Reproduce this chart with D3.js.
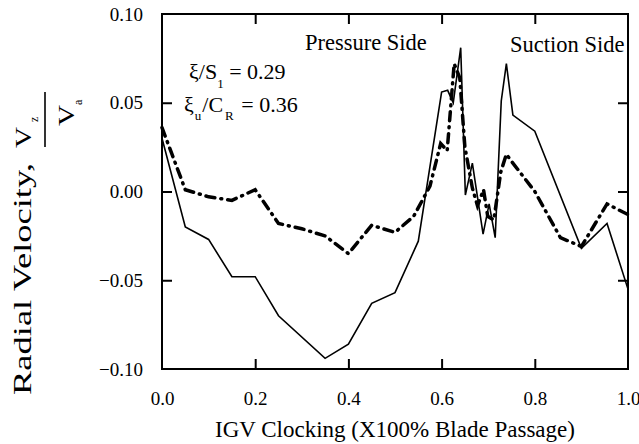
<!DOCTYPE html>
<html><head><meta charset="utf-8">
<script src="https://cdn.jsdelivr.net/npm/d3@7"></script>
<style>
html,body{margin:0;padding:0;background:#fff;}
svg text{font-family:"Liberation Serif","DejaVu Serif",serif !important;fill:#000;}
</style></head>
<body>
<svg id="chart" width="639" height="444" font-family="Liberation Serif, serif"></svg>
<script>
// Data
const solidX = [0, 0.05, 0.10, 0.15, 0.20, 0.25, 0.35, 0.40, 0.45, 0.50, 0.55, 0.60, 0.613, 0.625, 0.641, 0.651, 0.666, 0.689, 0.702, 0.715, 0.728, 0.739, 0.753, 0.80, 0.90, 0.955, 1.0];
const solidY = [0.030, -0.020, -0.027, -0.048, -0.048, -0.070, -0.094, -0.086, -0.063, -0.057, -0.028, 0.056, 0.057, 0.050, 0.081, -0.002, 0.016, -0.024, -0.007, -0.026, 0.051, 0.072, 0.043, 0.034, -0.032, -0.018, -0.055];
const dashX = [0, 0.05, 0.10, 0.15, 0.20, 0.25, 0.30, 0.35, 0.40, 0.45, 0.50, 0.54, 0.575, 0.598, 0.612, 0.627, 0.639, 0.650, 0.666, 0.677, 0.690, 0.699, 0.712, 0.727, 0.739, 0.75, 0.80, 0.855, 0.90, 0.955, 1.0];
const dashY = [0.036, 0.001, -0.003, -0.005, 0.001, -0.018, -0.021, -0.025, -0.035, -0.019, -0.023, -0.014, 0.003, 0.027, 0.023, 0.072, 0.064, 0.025, 0.002, -0.008, 0.001, -0.014, -0.016, 0.011, 0.021, 0.017, 0.000, -0.026, -0.031, -0.007, -0.013];
const xTicks = [0.0, 0.2, 0.4, 0.6, 0.8, 1.0];
const yTicks = [-0.10, -0.05, 0.00, 0.05, 0.10];

const FONT = '"Liberation Serif", "DejaVu Serif", serif';
const svg = d3.select("#chart");
const L = 162, R = 628, T = 14, B = 369;
const x = d3.scaleLinear().domain([0, 1]).range([L, R]);
const y = d3.scaleLinear().domain([-0.10, 0.10]).range([B, T]);

// Frame
svg.append("rect").attr("x", L).attr("y", T).attr("width", R - L).attr("height", B - T)
  .attr("fill", "none").attr("stroke", "#000").attr("stroke-width", 2);

// Axes (inward ticks)
const fs = 19;
const xb = svg.append("g").attr("transform", `translate(0,${B})`)
  .call(d3.axisBottom(x).tickValues(xTicks).tickSize(-10).tickPadding(23).tickFormat(d3.format(".1f")));
const xt = svg.append("g").attr("transform", `translate(0,${T})`)
  .call(d3.axisTop(x).tickValues(xTicks.slice(1, -1)).tickSize(-10).tickFormat(""));
const yl = svg.append("g").attr("transform", `translate(${L},0)`)
  .call(d3.axisLeft(y).tickValues(yTicks).tickSize(-10).tickPadding(19).tickFormat(d3.format(".2f")));
const yr = svg.append("g").attr("transform", `translate(${R},0)`)
  .call(d3.axisRight(y).tickValues(yTicks.slice(1, -1)).tickSize(-10).tickFormat(""));
[xb, xt, yl, yr].forEach(g => {
  g.attr("font-family", FONT);
  g.select(".domain").remove();
  g.selectAll(".tick line").attr("stroke", "#000").attr("stroke-width", 2);
  g.selectAll("text").attr("font-family", FONT).style("font-size", fs + "px").attr("fill", "#000");
});
xb.selectAll(".tick").filter(d => d === 0 || d === 1).select("line").remove();
yl.selectAll(".tick").filter(d => d === -0.10 || d === 0.10).select("line").remove();

// Lines
const lineGen = d3.line().x(d => x(d[0])).y(d => y(d[1]));
svg.append("path").datum(solidX.map((v, i) => [v, solidY[i]]))
  .attr("d", lineGen).attr("fill", "none").attr("stroke", "#000").attr("stroke-width", 1.6)
  .attr("stroke-linejoin", "miter");
svg.append("path").datum(dashX.map((v, i) => [v, dashY[i]]))
  .attr("d", lineGen).attr("fill", "none").attr("stroke", "#000").attr("stroke-width", 3.5)
  .attr("stroke-dasharray", "9,6,1,6").attr("stroke-linecap", "round");

// Annotations
function txt(xp, yp, size, s) {
  return svg.append("text").attr("x", xp).attr("y", yp).attr("font-family", FONT).style("font-size", size + "px").text(s);
}
txt(305, 50, 22.5, "Pressure Side");
txt(510, 52, 22.5, "Suction Side");

const a1 = svg.append("text").attr("x", 189).attr("y", 79).attr("font-family", FONT).style("font-size", "22px");
a1.append("tspan").text("ξ/S");
a1.append("tspan").attr("dy", 9).style("font-size", "13px").text("1");
a1.append("tspan").attr("dy", -9).text(" = 0.29");

const a2 = svg.append("text").attr("x", 184).attr("y", 112).attr("font-family", FONT).style("font-size", "22px");
a2.append("tspan").text("ξ");
a2.append("tspan").attr("dy", 8).attr("dx", 1).style("font-size", "13px").text("u");
a2.append("tspan").attr("dy", -8).attr("dx", 1).text("/C");
a2.append("tspan").attr("dy", 8).attr("dx", 2).style("font-size", "13px").text("R");
a2.append("tspan").attr("dy", -8).attr("dx", 2).text(" = 0.36");

// X axis title
txt((L + R) / 2, 437, 23, "IGV Clocking (X100% Blade Passage)").attr("text-anchor", "middle");

// Y axis title (rotated, stretched along its length)
const yt = svg.append("g").attr("transform", "rotate(-90)").attr("font-family", FONT);
yt.append("text").attr("x", -395).attr("y", 31).style("font-size", "25px")
  .attr("textLength", 232).attr("lengthAdjust", "spacingAndGlyphs").text("Radial Velocity,");
yt.append("text").attr("x", -148).attr("y", 31).style("font-size", "24px")
  .attr("textLength", 21).attr("lengthAdjust", "spacingAndGlyphs").text("V");
yt.append("text").attr("x", -122).attr("y", 38).style("font-size", "12px").text("z");
yt.append("line").attr("x1", -147).attr("x2", -92).attr("y1", 45).attr("y2", 45).attr("stroke", "#000").attr("stroke-width", 1.6);
yt.append("text").attr("x", -126).attr("y", 74).style("font-size", "24px")
  .attr("textLength", 21).attr("lengthAdjust", "spacingAndGlyphs").text("V");
yt.append("text").attr("x", -105).attr("y", 82).style("font-size", "12px").text("a");
</script>
</body></html>
